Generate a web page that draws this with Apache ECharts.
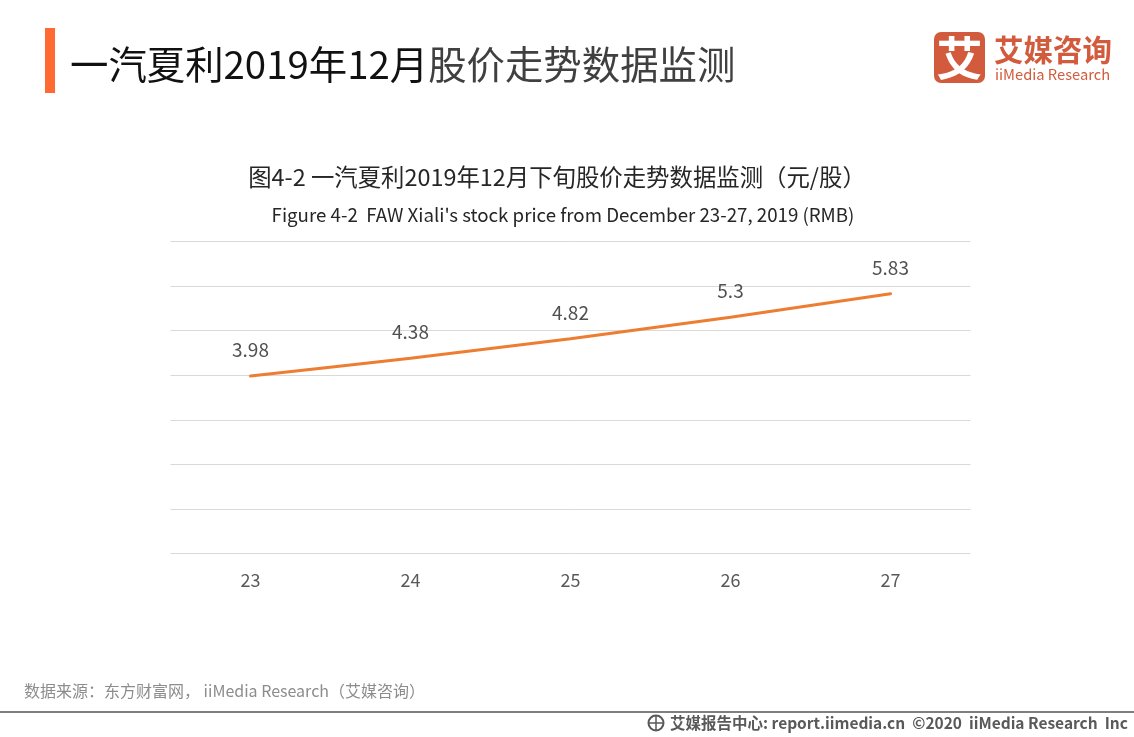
<!DOCTYPE html>
<html>
<head>
    <meta charset="utf-8">
    <title>一汽夏利2019年12月股价走势数据监测</title>
    <script src="https://cdn.jsdelivr.net/npm/echarts@6/dist/echarts.min.js"></script>
    <style>
        html, body { margin: 0; padding: 0; background: #fff; }
    </style>
</head>
<body>
<div id="main" style="width:1134px;height:737px;"></div>
<script type="text/javascript">
    var days = ['23', '24', '25', '26', '27'];
    var prices = [3.98, 4.38, 4.82, 5.3, 5.83];

    var cjk = '"Noto Sans CJK SC", sans-serif';
    var myChart = echarts.init(document.getElementById('main'));

    var option = {
        backgroundColor: '#fff',
        animation: false,
        grid: {left: 170.5, right: 163.5, top: 241.5, bottom: 183.5},
        xAxis: {
            type: 'category',
            data: days,
            axisLine: {show: false},
            axisTick: {show: false},
            axisLabel: {color: '#595959', fontSize: 18, fontFamily: cjk, margin: 18}
        },
        yAxis: {
            type: 'value',
            min: 0,
            max: 7,
            interval: 1,
            axisLine: {show: false},
            axisTick: {show: false},
            axisLabel: {show: false},
            splitLine: {lineStyle: {color: '#d9d9d9', width: 1}}
        },
        series: [{
            type: 'line',
            data: prices,
            // 点要留着，否则数值标签不显示
            symbol: 'circle',
            symbolSize: 1,
            itemStyle: {color: '#ed7d31'},
            smooth: 0.15,
            lineStyle: {color: '#ed7d31', width: 3, cap: 'round'},
            label: {
                show: true,
                position: 'top',
                distance: 16,
                color: '#505050',
                fontSize: 19,
                fontFamily: cjk
            }
        }],
        graphic: [
            // 顶部标题
            {type: 'rect', shape: {x: 45, y: 28, width: 10, height: 65}, style: {fill: '#ff6a33'}},
            {
                type: 'text', x: 70, y: 64,
                style: {
                    text: '{a|一汽夏利2019年12月}{b|股价走势数据监测}',
                    verticalAlign: 'middle',
                    rich: {
                        a: {fontSize: 38.4, fontFamily: cjk, fill: '#111111', color: '#111111'},
                        b: {fontSize: 38.4, fontFamily: cjk, fill: '#404040', color: '#404040'}
                    }
                }
            },
            // 图表标题
            {
                type: 'text', x: 557, y: 177,
                style: {
                    text: '图4-2 一汽夏利2019年12月下旬股价走势数据监测（元/股）',
                    align: 'center', verticalAlign: 'middle',
                    fontSize: 23.4, fontFamily: cjk, fill: '#262626'
                }
            },
            {
                type: 'text', x: 563, y: 215,
                style: {
                    text: "Figure 4-2  FAW Xiali's stock price from December 23-27, 2019 (RMB)",
                    align: 'center', verticalAlign: 'middle',
                    fontSize: 18.7, fontFamily: cjk, fill: '#262626'
                }
            },
            // logo
            {type: 'rect', shape: {x: 934, y: 32, width: 51, height: 51, r: 7}, style: {fill: '#d15b3c'}},
            {
                type: 'text', x: 959.5, y: 58,
                style: {
                    text: '艾', align: 'center', verticalAlign: 'middle',
                    fontSize: 46, fontWeight: 'bold', fontFamily: cjk, fill: '#fff'
                }
            },
            {
                type: 'text', x: 994, y: 50,
                style: {
                    text: '艾媒咨询', verticalAlign: 'middle',
                    fontSize: 29.5, fontWeight: 'bold', fontFamily: cjk, fill: '#d15b3c'
                }
            },
            {
                type: 'text', x: 995, y: 74,
                style: {
                    text: 'iiMedia Research', verticalAlign: 'middle',
                    fontSize: 14.7, fontFamily: cjk, fill: '#d15b3c'
                }
            },
            // 底部
            {
                type: 'text', x: 24, y: 691,
                style: {
                    text: '数据来源：东方财富网， iiMedia Research（艾媒咨询）', verticalAlign: 'middle',
                    fontSize: 16, fontFamily: cjk, fill: '#8c8c8c'
                }
            },
            {type: 'rect', shape: {x: 0, y: 711, width: 1134, height: 2}, style: {fill: '#7f7f7f'}},
            {type: 'circle', shape: {cx: 656, cy: 723, r: 7.5}, style: {fill: 'none', stroke: '#595959', lineWidth: 2}},
            {type: 'line', shape: {x1: 649, y1: 723, x2: 663, y2: 723}, style: {stroke: '#595959', lineWidth: 1.5}},
            {type: 'line', shape: {x1: 656, y1: 716, x2: 656, y2: 730}, style: {stroke: '#595959', lineWidth: 1.5}},
            {
                type: 'text', x: 670, y: 723,
                style: {
                    text: '艾媒报告中心: report.iimedia.cn  ©2020  iiMedia Research  Inc', verticalAlign: 'middle',
                    fontSize: 15.5, fontWeight: 'bold', fontFamily: cjk, fill: '#595959'
                }
            }
        ]
    };

    myChart.setOption(option);
</script>
</body>
</html>
